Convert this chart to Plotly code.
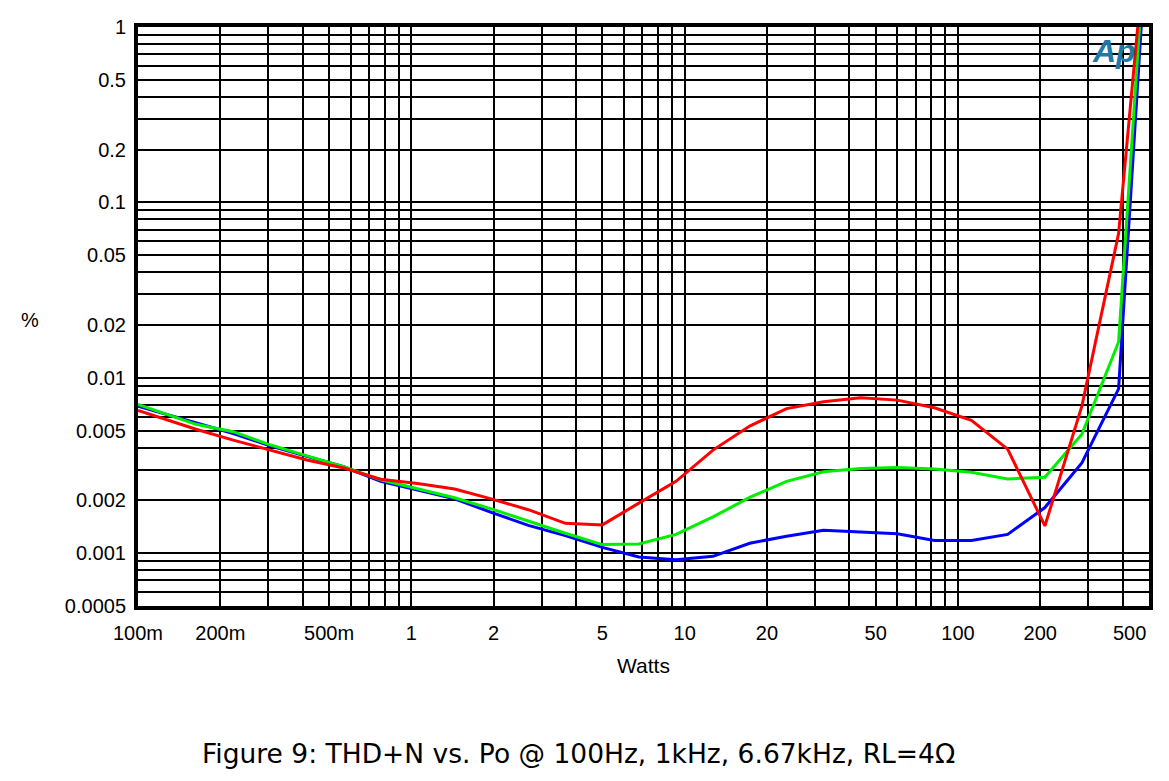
import math
import plotly.graph_objects as go

# ---- data ----
watts = [0.1, 0.163, 0.223, 0.304, 0.415, 0.566, 0.772, 1.054, 1.44, 1.96, 2.68,
         3.66, 5.0, 6.8, 9.3, 12.7, 17.3, 23.6, 32.2, 44, 60, 82, 112, 152, 208,
         284, 387, 540]

thd_blue = [0.0069, 0.00555, 0.00481, 0.00409, 0.00355, 0.00311, 0.00257, 0.00230,
            0.00204, 0.00171, 0.00144, 0.00126, 0.00108, 0.000952, 0.000919, 0.00096,
            0.00114, 0.00125, 0.00135, 0.00132, 0.00129, 0.00118, 0.00118, 0.00128,
            0.00182, 0.00327, 0.00865, 35]
thd_green = [0.00705, 0.00543, 0.00493, 0.00415, 0.00359, 0.00311, 0.00262, 0.00232,
             0.00207, 0.00179, 0.00152, 0.00130, 0.00112, 0.00113, 0.00128, 0.00161,
             0.00208, 0.00257, 0.00291, 0.00304, 0.00308, 0.00302, 0.00289, 0.00265,
             0.00271, 0.00477, 0.016, 40]
thd_red = [0.00652, 0.00509, 0.00441, 0.00387, 0.00340, 0.00306, 0.00264, 0.00250,
           0.00232, 0.00204, 0.00177, 0.00148, 0.00145, 0.00193, 0.00257, 0.00387,
           0.00531, 0.00667, 0.00730, 0.00769, 0.00746, 0.00675, 0.00573, 0.00392,
           0.00143, 0.0069, 0.0664, 18]

x_label_vals = [0.1, 0.2, 0.5, 1, 2, 5, 10, 20, 50, 100, 200]
x_label_text = ["100m", "200m", "500m", "1", "2", "5", "10", "20", "50", "100", "200"]
y_label_vals = [1, 0.5, 0.2, 0.1, 0.05, 0.02, 0.01, 0.005, 0.002, 0.001, 0.0005]
y_label_text = ["1", "0.5", "0.2", "0.1", "0.05", "0.02", "0.01", "0.005", "0.002", "0.001", "0.0005"]

title_text = "Figure 9: THD+N vs. Po @ 100Hz, 1kHz, 6.67kHz, RL=4\u03a9"

# ---- grid positions (1..9 per decade) ----
x_grid = [round(m * 10 ** e, 6) for e in (-1, 0, 1) for m in range(1, 10)] + [100, 200, 300, 400, 500]
y_grid = [round(m * 10 ** e, 6) for e in (-4, -3, -2, -1) for m in range(1, 10)] + [1]
y_grid = [v for v in y_grid if v >= 0.0005]


def lab(v, vals, texts):
    for a, t in zip(vals, texts):
        if abs(a - v) / v < 1e-6:
            return t
    return ""


x_ticktext = [lab(v, x_label_vals, x_label_text) for v in x_grid]
y_ticktext = [lab(v, y_label_vals, y_label_text) for v in y_grid]

fig = go.Figure()
for ys, col in ((thd_blue, "#0000FF"), (thd_green, "#00EE00"), (thd_red, "#FF0000")):
    fig.add_trace(go.Scatter(x=watts, y=ys, mode="lines",
                             line=dict(color=col, width=3), hoverinfo="skip"))

tick_font = dict(family="Liberation Sans, Arial, sans-serif", size=20, color="black")

# page body adds an 8px margin, so the figure is 16px smaller than the window
fig.update_layout(
    width=1153, height=765,
    margin=dict(l=130, r=8, t=16, b=167),
    plot_bgcolor="white", paper_bgcolor="white",
    showlegend=False,
    xaxis=dict(type="log", range=[-1, math.log10(500)],
               tickmode="array", tickvals=x_grid, ticktext=x_ticktext,
               showgrid=True, gridcolor="black", gridwidth=2,
               showline=True, mirror=True, linecolor="black", linewidth=4,
               ticks="", zeroline=False, tickfont=tick_font,
               ticklabelstandoff=6),
    yaxis=dict(type="log", range=[math.log10(0.0005), 0],
               tickmode="array", tickvals=y_grid, ticktext=y_ticktext,
               showgrid=True, gridcolor="black", gridwidth=2,
               showline=True, mirror=True, linecolor="black", linewidth=4,
               ticks="", zeroline=False, tickfont=tick_font,
               ticklabelstandoff=4),
)

fig.add_annotation(x=math.log10(500), xref="x", y=0, yref="paper",
                   text="500", showarrow=False, font=tick_font,
                   xanchor="center", yanchor="top", xshift=-20, yshift=-14)
fig.add_annotation(x=0.5, xref="paper", y=0, yref="paper", text="Watts",
                   showarrow=False, xanchor="center", yanchor="middle", yshift=-59,
                   font=dict(family="Liberation Sans, Arial, sans-serif", size=21, color="black"))
fig.add_annotation(x=-0.1064, xref="paper", y=0.4948, yref="paper", text="%",
                   showarrow=False, font=tick_font, xanchor="center", yanchor="middle")
fig.add_annotation(x=0.4355, xref="paper", y=0, yref="paper", text=title_text,
                   showarrow=False, xanchor="center", yanchor="middle", yshift=-147,
                   font=dict(family="DejaVu Sans, Verdana, sans-serif", size=26.5, color="black"))
fig.add_annotation(x=0.9655, xref="paper", y=0.9588, yref="paper", text="Ap",
                   showarrow=False, xanchor="center", yanchor="middle",
                   font=dict(family="Liberation Sans, Arial", size=32, color="#1f78a8",
                             weight="bold", style="italic"))

fig.write_html("out.html")
